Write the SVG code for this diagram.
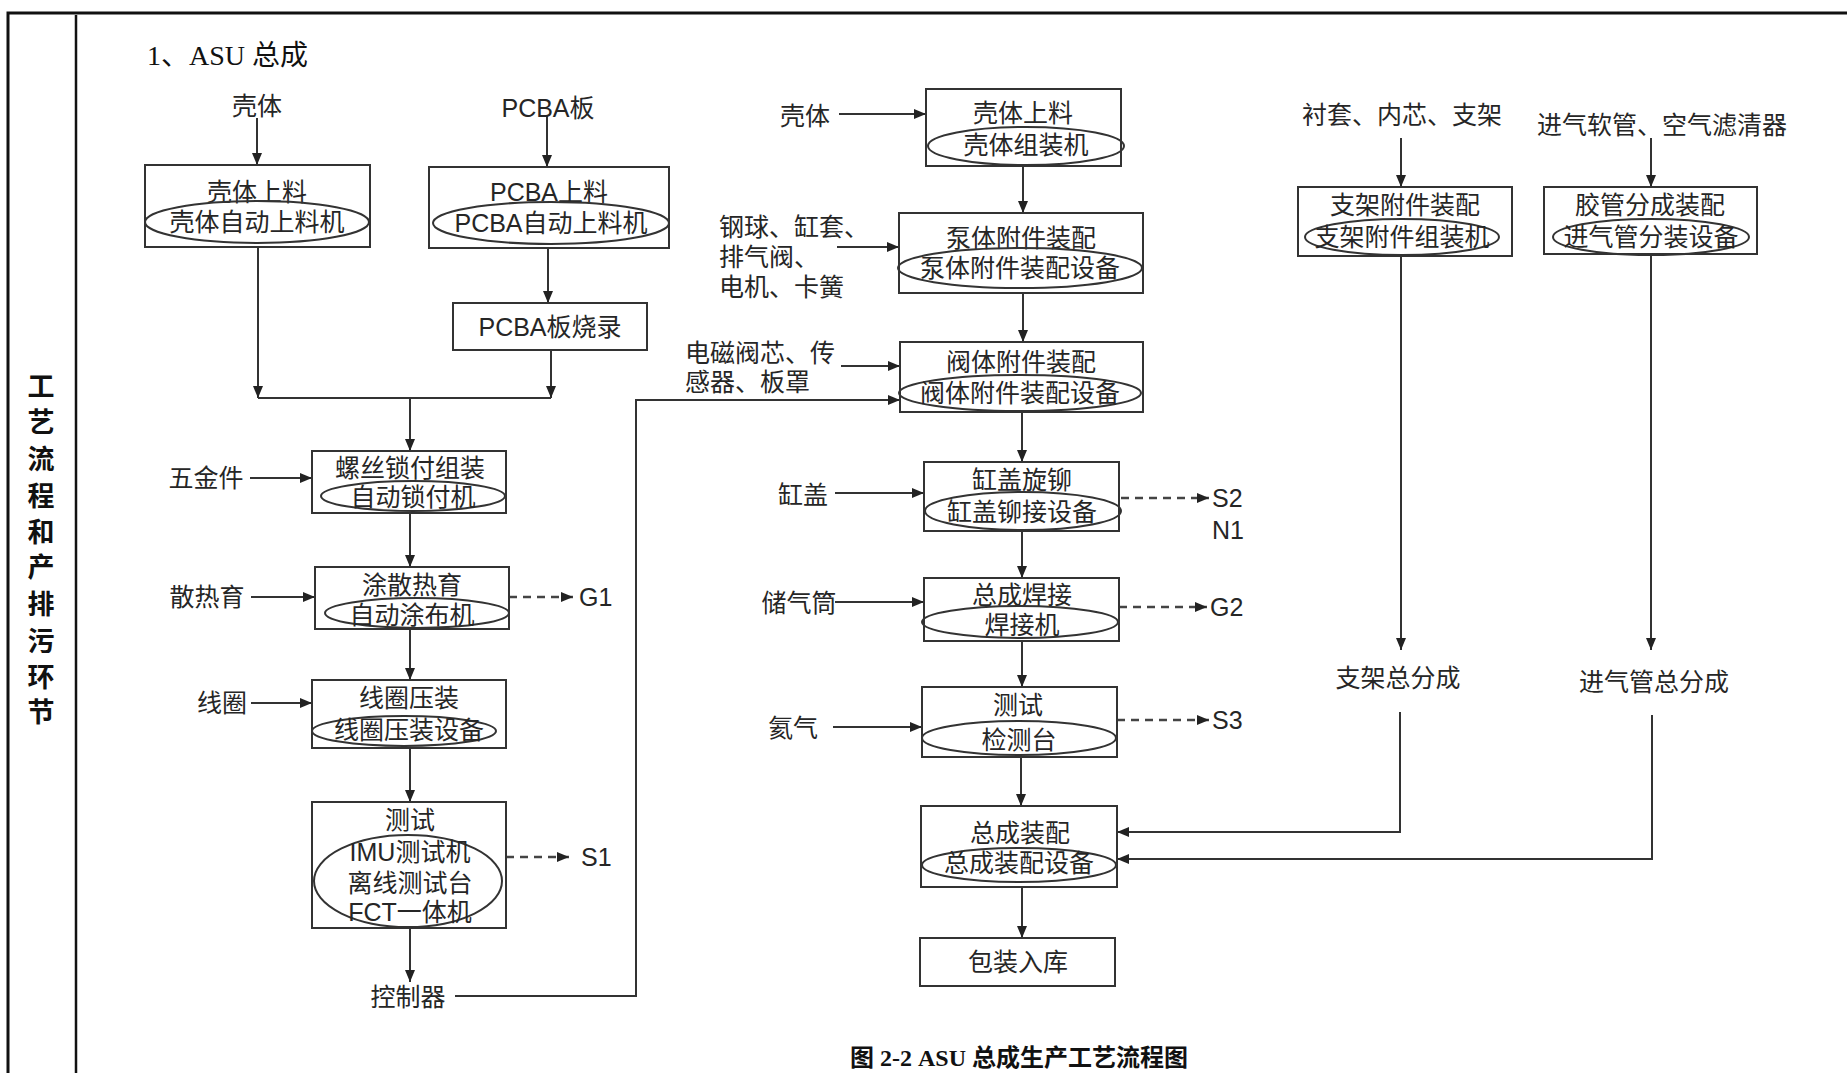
<svg xmlns="http://www.w3.org/2000/svg" width="1847" height="1073" viewBox="0 0 1847 1073">
<style>
text{font-family:"Liberation Sans","Noto Sans CJK SC",sans-serif;font-size:25px;fill:#262626;text-anchor:middle;dominant-baseline:central}
.l{text-anchor:start}
.box{fill:none;stroke:#333;stroke-width:2}
.ell{fill:none;stroke:#333;stroke-width:2}
.c{fill:none;stroke:#333;stroke-width:2}
.d{fill:none;stroke:#444;stroke-width:2.5;stroke-dasharray:8 6}
.frame{fill:none;stroke:#111;stroke-width:3}
.v{font-weight:bold;font-size:27px;fill:#111}
.title{font-family:"Liberation Serif","Noto Sans CJK SC",serif;font-size:28px;fill:#111}
.cap{font-family:"Liberation Serif","Noto Sans CJK SC",serif;font-size:24px;font-weight:bold;fill:#111}
</style>
<defs>
<marker id="a" markerUnits="userSpaceOnUse" markerWidth="12" markerHeight="10" refX="12" refY="5" orient="auto">
<path d="M0,0 L12,5 L0,10 Z" fill="#222"/>
</marker>
</defs>
<rect width="1847" height="1073" fill="#fff"/>
<g id="frame">
<path class="frame" d="M8,1073 V13 H1847"/>
<path d="M76,15 V1073" stroke="#111" stroke-width="2.5" fill="none"/>
<text class="v"><tspan x="41" y="387">工</tspan><tspan x="41" y="423">艺</tspan><tspan x="41" y="460">流</tspan><tspan x="41" y="497">程</tspan><tspan x="41" y="533">和</tspan><tspan x="41" y="568">产</tspan><tspan x="41" y="605">排</tspan><tspan x="41" y="642">污</tspan><tspan x="41" y="678">环</tspan><tspan x="41" y="713">节</tspan></text>
<text class="title l" x="147" y="55">1、ASU 总成</text>
<text class="cap" x="1019" y="1058">图 2-2 ASU 总成生产工艺流程图</text>
</g>
<g id="connectors">
<path class="c" d="M257,118 V165" marker-end="url(#a)"/>
<path class="c" d="M547,116 V167" marker-end="url(#a)"/>
<path class="c" d="M548,248 V303" marker-end="url(#a)"/>
<path class="c" d="M258,247 V398" marker-end="url(#a)"/>
<path class="c" d="M551,350 V398" marker-end="url(#a)"/>
<path class="c" d="M258,398 H551"/>
<path class="c" d="M410,398 V451" marker-end="url(#a)"/>
<path class="c" d="M250,478 H312" marker-end="url(#a)"/>
<path class="c" d="M410,513 V567" marker-end="url(#a)"/>
<path class="c" d="M251,597 H315" marker-end="url(#a)"/>
<path class="d" d="M509,597 H573" marker-end="url(#a)"/>
<path class="c" d="M410,629 V680" marker-end="url(#a)"/>
<path class="c" d="M251,703 H312" marker-end="url(#a)"/>
<path class="c" d="M410,748 V802" marker-end="url(#a)"/>
<path class="d" d="M506,857 H569" marker-end="url(#a)"/>
<path class="c" d="M410,928 V982" marker-end="url(#a)"/>
<path class="c" d="M455,996 H636 V400 H900" marker-end="url(#a)"/>
<path class="c" d="M839,114 H926" marker-end="url(#a)"/>
<path class="c" d="M1023,166 V213" marker-end="url(#a)"/>
<path class="c" d="M837,247 H899" marker-end="url(#a)"/>
<path class="c" d="M1023,293 V342" marker-end="url(#a)"/>
<path class="c" d="M841,366 H900" marker-end="url(#a)"/>
<path class="c" d="M1022,412 V462" marker-end="url(#a)"/>
<path class="c" d="M835,493 H924" marker-end="url(#a)"/>
<path class="d" d="M1121,498 H1209" marker-end="url(#a)"/>
<path class="c" d="M1022,531 V578" marker-end="url(#a)"/>
<path class="c" d="M835,602 H924" marker-end="url(#a)"/>
<path class="d" d="M1119,607 H1207" marker-end="url(#a)"/>
<path class="c" d="M1022,641 V687" marker-end="url(#a)"/>
<path class="c" d="M833,727 H922" marker-end="url(#a)"/>
<path class="d" d="M1117,720 H1209" marker-end="url(#a)"/>
<path class="c" d="M1021,757 V806" marker-end="url(#a)"/>
<path class="c" d="M1022,887 V938" marker-end="url(#a)"/>
<path class="c" d="M1401,138 V187" marker-end="url(#a)"/>
<path class="c" d="M1651,138 V187" marker-end="url(#a)"/>
<path class="c" d="M1401,256 V650" marker-end="url(#a)"/>
<path class="c" d="M1651,254 V650" marker-end="url(#a)"/>
<path class="c" d="M1400,712 V832 H1117" marker-end="url(#a)"/>
<path class="c" d="M1652,715 V859 H1117" marker-end="url(#a)"/>
</g>
<g id="labels">
<text x="257" y="106">壳体</text>
<text x="548" y="108">PCBA板</text>
<text x="206" y="478">五金件</text>
<text x="207" y="597">散热育</text>
<text x="222" y="703">线圈</text>
<text class="l" x="579" y="597">G1</text>
<text class="l" x="581" y="857">S1</text>
<text x="408" y="997">控制器</text>
<text x="805" y="116">壳体</text>
<text class="l" x="719" y="227">钢球、缸套、</text>
<text class="l" x="719" y="257">排气阀、</text>
<text class="l" x="719" y="287">电机、卡簧</text>
<text class="l" x="685" y="353">电磁阀芯、传</text>
<text class="l" x="685" y="382">感器、板罩</text>
<text x="803" y="495">缸盖</text>
<text x="799" y="603">储气筒</text>
<text x="793" y="728">氦气</text>
<text class="l" x="1212" y="498">S2</text>
<text class="l" x="1212" y="530">N1</text>
<text class="l" x="1210" y="607">G2</text>
<text class="l" x="1212" y="720">S3</text>
<text x="1402" y="115">衬套、内芯、支架</text>
<text x="1662" y="125">进气软管、空气滤清器</text>
<text x="1398" y="678">支架总分成</text>
<text x="1654" y="682">进气管总分成</text>
</g>
<g id="n-shell-feed">
<rect class="box" x="145" y="165" width="225" height="82"/>
<text x="257" y="192">壳体上料</text>
<ellipse class="ell" cx="257" cy="222" rx="112" ry="21"/>
<text x="257" y="222">壳体自动上料机</text>
</g>
<g id="n-pcba-feed">
<rect class="box" x="429" y="167" width="240" height="81"/>
<text x="549" y="192">PCBA上料</text>
<ellipse class="ell" cx="551" cy="223" rx="118" ry="21"/>
<text x="551" y="223">PCBA自动上料机</text>
</g>
<g id="n-pcba-burn">
<rect class="box" x="453" y="303" width="194" height="47"/>
<text x="550" y="327">PCBA板烧录</text>
</g>
<g id="n-screw">
<rect class="box" x="312" y="451" width="194" height="62"/>
<text x="410" y="468">螺丝锁付组装</text>
<ellipse class="ell" cx="413" cy="496" rx="92" ry="15"/>
<text x="413" y="497">自动锁付机</text>
</g>
<g id="n-paste">
<rect class="box" x="315" y="567" width="194" height="62"/>
<text x="412" y="585">涂散热育</text>
<ellipse class="ell" cx="417" cy="613" rx="92" ry="15"/>
<text x="412" y="615">自动涂布机</text>
</g>
<g id="n-coil">
<rect class="box" x="312" y="680" width="194" height="68"/>
<text x="409" y="698">线圈压装</text>
<ellipse class="ell" cx="404" cy="731" rx="92" ry="15"/>
<text x="409" y="730">线圈压装设备</text>
</g>
<g id="n-test1">
<rect class="box" x="312" y="802" width="194" height="126"/>
<text x="410" y="820">测试</text>
<ellipse class="ell" cx="408" cy="881" rx="94" ry="46"/>
<text x="410" y="852">IMU测试机</text>
<text x="410" y="883">离线测试台</text>
<text x="410" y="912">FCT一体机</text>
</g>
<g id="n-shell2">
<rect class="box" x="926" y="89" width="195" height="77"/>
<text x="1023" y="113">壳体上料</text>
<ellipse class="ell" cx="1026" cy="146" rx="98" ry="19"/>
<text x="1026" y="145">壳体组装机</text>
</g>
<g id="n-pump">
<rect class="box" x="899" y="213" width="244" height="80"/>
<text x="1021" y="238">泵体附件装配</text>
<ellipse class="ell" cx="1020" cy="268" rx="122" ry="20"/>
<text x="1020" y="268">泵体附件装配设备</text>
</g>
<g id="n-valve">
<rect class="box" x="900" y="342" width="243" height="70"/>
<text x="1021" y="362">阀体附件装配</text>
<ellipse class="ell" cx="1020" cy="393" rx="121" ry="18"/>
<text x="1020" y="393">阀体附件装配设备</text>
</g>
<g id="n-cap">
<rect class="box" x="924" y="462" width="195" height="69"/>
<text x="1022" y="480">缸盖旋铆</text>
<ellipse class="ell" cx="1023" cy="511" rx="98" ry="19"/>
<text x="1022" y="512">缸盖铆接设备</text>
</g>
<g id="n-weld">
<rect class="box" x="924" y="578" width="195" height="63"/>
<text x="1022" y="595">总成焊接</text>
<ellipse class="ell" cx="1020" cy="622" rx="98" ry="16"/>
<text x="1022" y="625">焊接机</text>
</g>
<g id="n-test2">
<rect class="box" x="922" y="687" width="195" height="70"/>
<text x="1018" y="705">测试</text>
<ellipse class="ell" cx="1019" cy="738" rx="97" ry="17"/>
<text x="1019" y="740">检测台</text>
</g>
<g id="n-assembly">
<rect class="box" x="921" y="806" width="196" height="81"/>
<text x="1020" y="833">总成装配</text>
<ellipse class="ell" cx="1019" cy="865" rx="97" ry="17"/>
<text x="1019" y="863">总成装配设备</text>
</g>
<g id="n-pack">
<rect class="box" x="920" y="938" width="195" height="48"/>
<text x="1018" y="962">包装入库</text>
</g>
<g id="n-bracket">
<rect class="box" x="1298" y="187" width="214" height="69"/>
<text x="1405" y="205">支架附件装配</text>
<ellipse class="ell" cx="1402" cy="237" rx="97" ry="18"/>
<text x="1402" y="237">支架附件组装机</text>
</g>
<g id="n-hose">
<rect class="box" x="1544" y="187" width="213" height="67"/>
<text x="1650" y="205">胶管分成装配</text>
<ellipse class="ell" cx="1651" cy="237" rx="98" ry="18"/>
<text x="1651" y="237">进气管分装设备</text>
</g>
</svg>
